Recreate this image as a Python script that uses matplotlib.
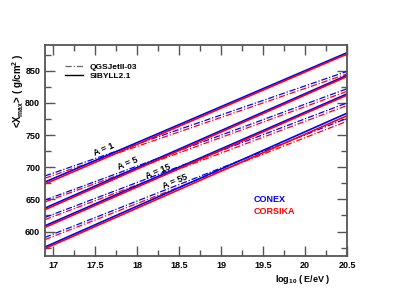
import matplotlib
matplotlib.use('Agg')
import matplotlib.pyplot as plt
from matplotlib.ticker import MultipleLocator, FormatStrFormatter

plt.rcParams['font.family'] = ['Liberation Sans', 'DejaVu Sans']

# endpoints of each line: log10(E/eV) at axis edges
log_e = [16.9, 20.5]
masses = ['A = 1', 'A = 5', 'A = 15', 'A = 55']

# <Xmax> in g/cm^2 at the two edges
qgs_conex = [[686.5, 849], [649, 822], [622, 800], [591, 776]]
qgs_corsika = [[683, 845], [646, 818], [618.5, 796], [587.5, 771.5]]
sib_conex = [[677, 878], [636.5, 843], [609, 814], [576, 784]]
sib_corsika = [[674, 876], [634, 841], [606.5, 812], [573.5, 780]]

# where the A labels sit
label_x = [17.60, 17.89, 18.25, 18.45]
label_y = [728, 705, 693, 678]

fig = plt.figure(figsize=(4.15, 2.94), dpi=100)
ax = fig.add_axes([45 / 415, 1 - 256 / 294, 302 / 415, 211 / 294])

dd = (0, (5, 1.5, 1, 1.5))
for i in range(len(masses)):
    ax.plot(log_e, qgs_conex[i], color='#0000ff', ls=dd, lw=0.9)
    ax.plot(log_e, qgs_corsika[i], color='#ff0000', ls=dd, lw=0.9)
    ax.plot(log_e, sib_conex[i], color='#0000ff', lw=1.2)
    ax.plot(log_e, sib_corsika[i], color='#ff0000', lw=1.2)
    ax.text(label_x[i], label_y[i], masses[i], rotation=23, fontsize=6.5,
            fontweight='bold', ha='center', va='center')

ax.set_xlim(16.9, 20.5)
ax.set_ylim(562, 890)
ax.xaxis.set_major_locator(MultipleLocator(0.5))
ax.xaxis.set_minor_locator(MultipleLocator(0.25))
ax.xaxis.set_major_formatter(FormatStrFormatter('%g'))
ax.yaxis.set_major_locator(MultipleLocator(50))
ax.yaxis.set_minor_locator(MultipleLocator(25))
ax.tick_params(which='both', direction='in', top=True, right=True,
               labelsize=6.5, color='#555555', width=1)
ax.tick_params(which='major', length=7)
ax.tick_params(which='minor', length=4)
for lab in ax.get_xticklabels() + ax.get_yticklabels():
    lab.set_fontweight('bold')
for s in ax.spines.values():
    s.set_color('#555555')
    s.set_linewidth(1.3)

# legend entries in the ROOT fashion
ax.plot([], [], color='#666666', ls=dd, lw=0.9, label='QGSJetII-03')
ax.plot([], [], color='black', lw=1.0, label='SIBYLL2.1')
ax.legend(loc='upper left', frameon=False, handlelength=2.2,
          prop={'weight': 'bold', 'size': 6}, bbox_to_anchor=(0.04, 0.95),
          labelspacing=0.2)

ax.text(0.69, 0.255, 'CONEX', color='#0000ff', fontsize=6.5, fontweight='bold',
        transform=ax.transAxes)
ax.text(0.69, 0.2, 'CORSIKA', color='#ff0000', fontsize=6.5, fontweight='bold',
        transform=ax.transAxes)

fig.text(275 / 415, 1 - 280 / 294, r'$\mathregular{log_{10}}$ ( E/eV )',
         fontsize=6.5, fontweight='bold', va='center')
fig.text(18 / 415, 1 - 91 / 294, r'<X$\mathregular{_{max}}$> ( g/cm$\mathregular{^2}$ )',
         fontsize=7, fontweight='bold', rotation=90, ha='center', va='center')

fig.savefig('out.png', dpi=100)
